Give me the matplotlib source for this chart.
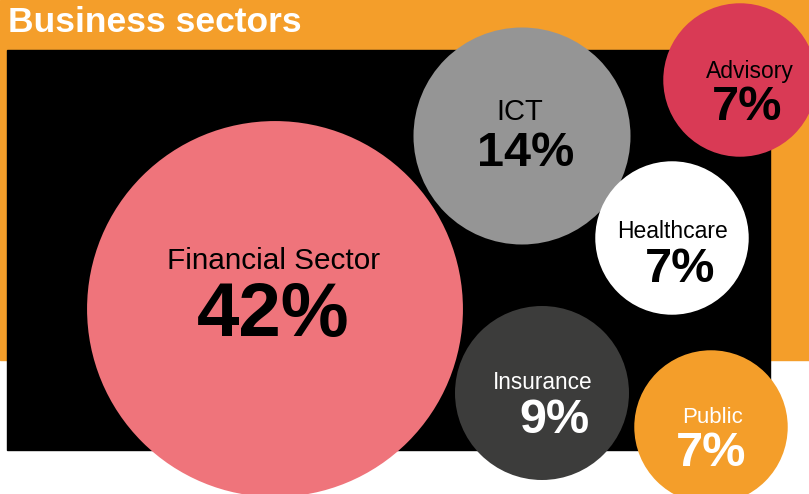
import matplotlib
matplotlib.use('Agg')
import matplotlib.pyplot as plt
import numpy as np
from matplotlib.patches import Circle, Rectangle

# --- Data ---
sectors = ['Financial Sector', 'ICT', 'Advisory', 'Healthcare', 'Insurance', 'Public']
shares = [42, 14, 7, 7, 9, 7]

# --- Layout (pixel coordinates, y down) ---
centers = [(275, 309), (522, 136), (740, 80), (672, 238), (542, 393), (711, 427)]
fills = ['#EF747B', '#959595', '#D93A55', '#FFFFFF', '#3C3C3B', '#F49E2A']
text_colors = ['black', 'black', 'black', 'black', 'white', 'white']
label_sizes = [21.4, 21, 16.5, 16.5, 16.3, 16]
pct_sizes = [55, 35, 35, 35, 35, 35]
# baseline offsets from circle centre
label_dy = [-40, -16, -2, 0, -4, -4]
pct_dy = [27, 30, 40, 44, 40, 39]
label_dx = [-1.5, -2, 10, 1, 0.5, 2]
pct_dx = [-2, 3.5, 7.5, 8, 12.5, 0]

ORANGE = '#F49E2A'
W, H = 809, 494
scale = 29.0  # radius ~ sqrt(share)

fig = plt.figure(figsize=(W / 100, H / 100), dpi=100)
ax = fig.add_axes([0, 0, 1, 1])
ax.set_xlim(0, W)
ax.set_ylim(H, 0)
ax.axis('off')

# background bands
ax.add_patch(Rectangle((0, 0), W, 360, color=ORANGE, zorder=0))
ax.add_patch(Rectangle((7, 50), 763, 400, color='black', zorder=1))

ax.text(8, 32, 'Business sectors', color='white', fontsize=25.5, fontweight='bold',
        family='Liberation Sans', va='baseline', ha='left', zorder=5)

for i, (name, val) in enumerate(zip(sectors, shares)):
    cx, cy = centers[i]
    r = scale * np.sqrt(val)
    ax.add_patch(Circle((cx, cy), r, facecolor=fills[i], edgecolor='none', zorder=2))
    ax.text(cx + label_dx[i], cy + label_dy[i], name, color=text_colors[i],
            fontsize=label_sizes[i], family='Liberation Sans',
            ha='center', va='baseline', zorder=3)
    ax.text(cx + pct_dx[i], cy + pct_dy[i], f'{val}%', color=text_colors[i],
            fontsize=pct_sizes[i], fontweight='bold', family='Liberation Sans',
            ha='center', va='baseline', zorder=3)

fig.savefig('out.png', dpi=100)
